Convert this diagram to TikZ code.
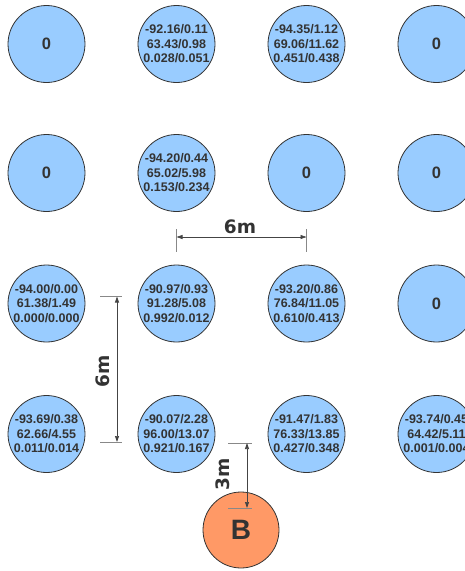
\documentclass[tikz,border=0pt]{standalone}
\usepackage{fontspec}
\setmainfont{Liberation Sans}
\newfontfamily\dimfont{DejaVu Sans}
\usetikzlibrary{arrows.meta}
\definecolor{cfill}{HTML}{99CCFF}
\definecolor{bfill}{HTML}{FF9966}
\definecolor{ink}{HTML}{333333}
\definecolor{dimc}{HTML}{444444}
\definecolor{extc}{HTML}{888888}
\begin{document}
\begin{tikzpicture}[x=1pt,y=-1pt,
  pile/.style={circle,draw=ink,line width=0.8pt,fill=cfill,minimum size=77pt,inner sep=0pt,text=ink,font=\bfseries\fontsize{12.5}{14.5}\selectfont,align=center},
  zero/.style={pile,font=\bfseries\fontsize{16.5}{18}\selectfont},
  basept/.style={circle,draw=ink,line width=0.8pt,fill=bfill,minimum size=76pt,inner sep=0pt,text=ink,font=\bfseries\fontsize{28}{30}\selectfont},
  dimline/.style={draw=dimc,line width=0.7pt,{Triangle[length=6pt,width=4pt]}-{Triangle[length=6pt,width=4pt]}},
  extline/.style={draw=extc,line width=0.8pt},
  dimlabel/.style={text=ink,font=\dimfont\bfseries\fontsize{18.5}{20}\selectfont,inner sep=0pt}
]
\useasboundingbox (0,0) rectangle (465,571);
\clip (0,0) rectangle (465,571);

% row 1
\node[zero] (r1c1) at (46.5,44) {0};
\node[pile] (r1c2) at (176.5,44) {-92.16/0.11\\63.43/0.98\\0.028/0.051};
\node[pile] (r1c3) at (306.5,44) {-94.35/1.12\\69.06/11.62\\0.451/0.438};
\node[zero] (r1c4) at (436.5,44) {0};
% row 2
\node[zero] (r2c1) at (46.5,173) {0};
\node[pile] (r2c2) at (176.5,173) {-94.20/0.44\\65.02/5.98\\0.153/0.234};
\node[zero] (r2c3) at (306.5,173) {0};
\node[zero] (r2c4) at (436.5,173) {0};
% row 3
\node[pile] (r3c1) at (46.5,303.5) {-94.00/0.00\\61.38/1.49\\0.000/0.000};
\node[pile] (r3c2) at (176.5,303.5) {-90.97/0.93\\91.28/5.08\\0.992/0.012};
\node[pile] (r3c3) at (306.5,303.5) {-93.20/0.86\\76.84/11.05\\0.610/0.413};
\node[zero] (r3c4) at (436.5,303.5) {0};
% row 4
\node[pile] (r4c1) at (46.5,434) {-93.69/0.38\\62.66/4.55\\0.011/0.014};
\node[pile] (r4c2) at (176.5,434) {-90.07/2.28\\96.00/13.07\\0.921/0.167};
\node[pile] (r4c3) at (306.5,434) {-91.47/1.83\\76.33/13.85\\0.427/0.348};
\node[pile] (r4c4) at (436.5,434) {-93.74/0.45\\64.42/5.11\\0.001/0.004};
% base point
\node[basept] (B) at (241,530) {B};

% horizontal 6m dimension
\coordinate (h1t) at (176.5,229);
\coordinate (h1b) at (176.5,252);
\coordinate (h2t) at (306.5,229);
\coordinate (h2b) at (306.5,252);
\coordinate (ha) at (176.5,237);
\coordinate (hb) at (306.5,237);
\draw[extline] (h1t) -- (h1b);
\draw[extline] (h2t) -- (h2b);
\draw[dimline] (ha) -- (hb);
\node[dimlabel] (hlab) at (240,227) {6m};

% vertical 6m dimension
\coordinate (v1l) at (100,296.5);
\coordinate (v1r) at (122,296.5);
\coordinate (v2l) at (100,442);
\coordinate (v2r) at (122,442);
\coordinate (va) at (117,296.5);
\coordinate (vb) at (117,442);
\draw[extline] (v1l) -- (v1r);
\draw[extline] (v2l) -- (v2r);
\draw[dimline] (va) -- (vb);
\node[dimlabel,rotate=90] (vlab) at (102.5,371) {6m};

% vertical 3m dimension
\coordinate (s1l) at (228,443);
\coordinate (s1r) at (252,443);
\coordinate (s2l) at (228,508);
\coordinate (s2r) at (252,508);
\coordinate (sa) at (247,443);
\coordinate (sb) at (247,508);
\draw[extline] (s1l) -- (s1r);
\draw[extline] (s2l) -- (s2r);
\draw[dimline] (sa) -- (sb);
\node[dimlabel,rotate=90] (slab) at (223,474) {3m};
\end{tikzpicture}
\end{document}
